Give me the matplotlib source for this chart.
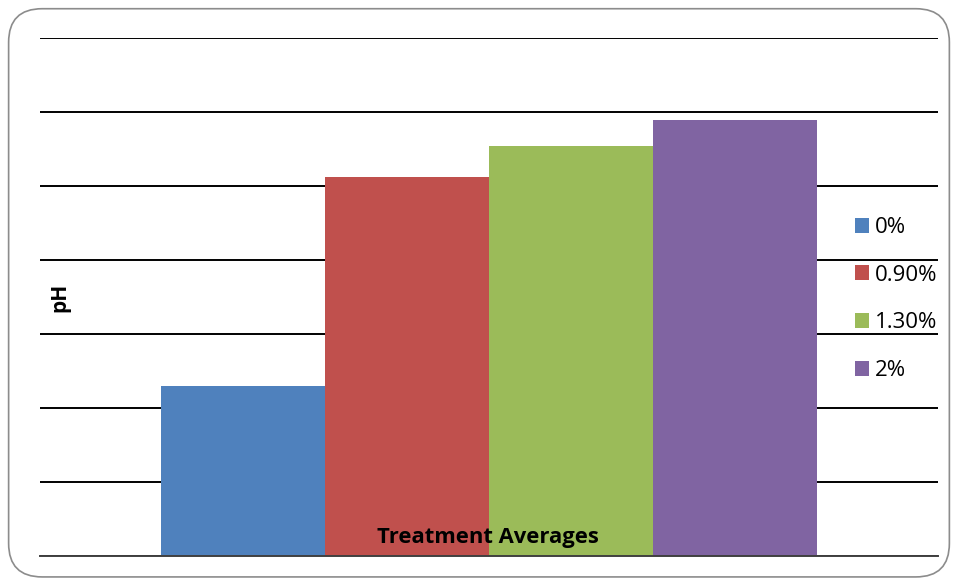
import numpy as np
import matplotlib.pyplot as plt
from matplotlib.patches import FancyBboxPatch

# data (no tick labels on the original, values read on a 0-7 grid scale)
categories = ['Treatment Averages']
series_names = ['0%', '0.90%', '1.30%', '2%']
series_values = [2.30, 5.12, 5.54, 5.89]
colors = ['#4F81BD', '#C0504D', '#9BBB59', '#8064A2']

plt.rcParams['font.family'] = ['Open Sans', 'DejaVu Sans']

fig = plt.figure(figsize=(9.58, 5.81), dpi=100)

# rounded chart border
border = FancyBboxPatch((0.009, 0.007), 0.982, 0.978,
                        boxstyle='round,pad=0,rounding_size=0.035',
                        transform=fig.transFigure, facecolor='none',
                        edgecolor='#8c8c8c', linewidth=1.2, mutation_aspect=958/581)
fig.patches.append(border)

ax = fig.add_axes([40/958, 1-556/581, 898/958, 518/581])
ax.set_facecolor('none')

w = 0.1826
x = np.arange(len(categories))
for i, (name, val) in enumerate(zip(series_names, series_values)):
    ax.bar(x + (i - 1.5) * w, [val], width=w, color=colors[i], label=name, zorder=2)

ax.set_ylim(0, 7)
ax.set_xlim(-0.5, 0.5)
ax.set_yticks(np.arange(0, 8))
ax.yaxis.grid(True, color='black', linewidth=1.4, zorder=1)
ax.set_axisbelow(True)
ax.tick_params(left=False, bottom=False, labelleft=False, labelbottom=False)
for s in ['top', 'right', 'left']:
    ax.spines[s].set_visible(False)
ax.spines['bottom'].set_color('#404040')
ax.spines['bottom'].set_linewidth(1.4)

fig.text(488/958, 1-537/581, 'Treatment Averages', ha='center', va='center',
         fontsize=15.8, fontweight='bold', zorder=3)
fig.text(60/958, 1-297/581, 'pH', rotation=90, ha='center', va='center',
         fontsize=15, fontweight='bold')

leg = ax.legend(loc='center left', frameon=False, fontsize=16,
                handlelength=0.65, handleheight=0.65, handletextpad=0.25,
                labelspacing=1.2, borderaxespad=0, borderpad=0)
leg.set_bbox_to_anchor((855/958, 1-299/581), transform=fig.transFigure)

fig.savefig('out.png', dpi=100)
